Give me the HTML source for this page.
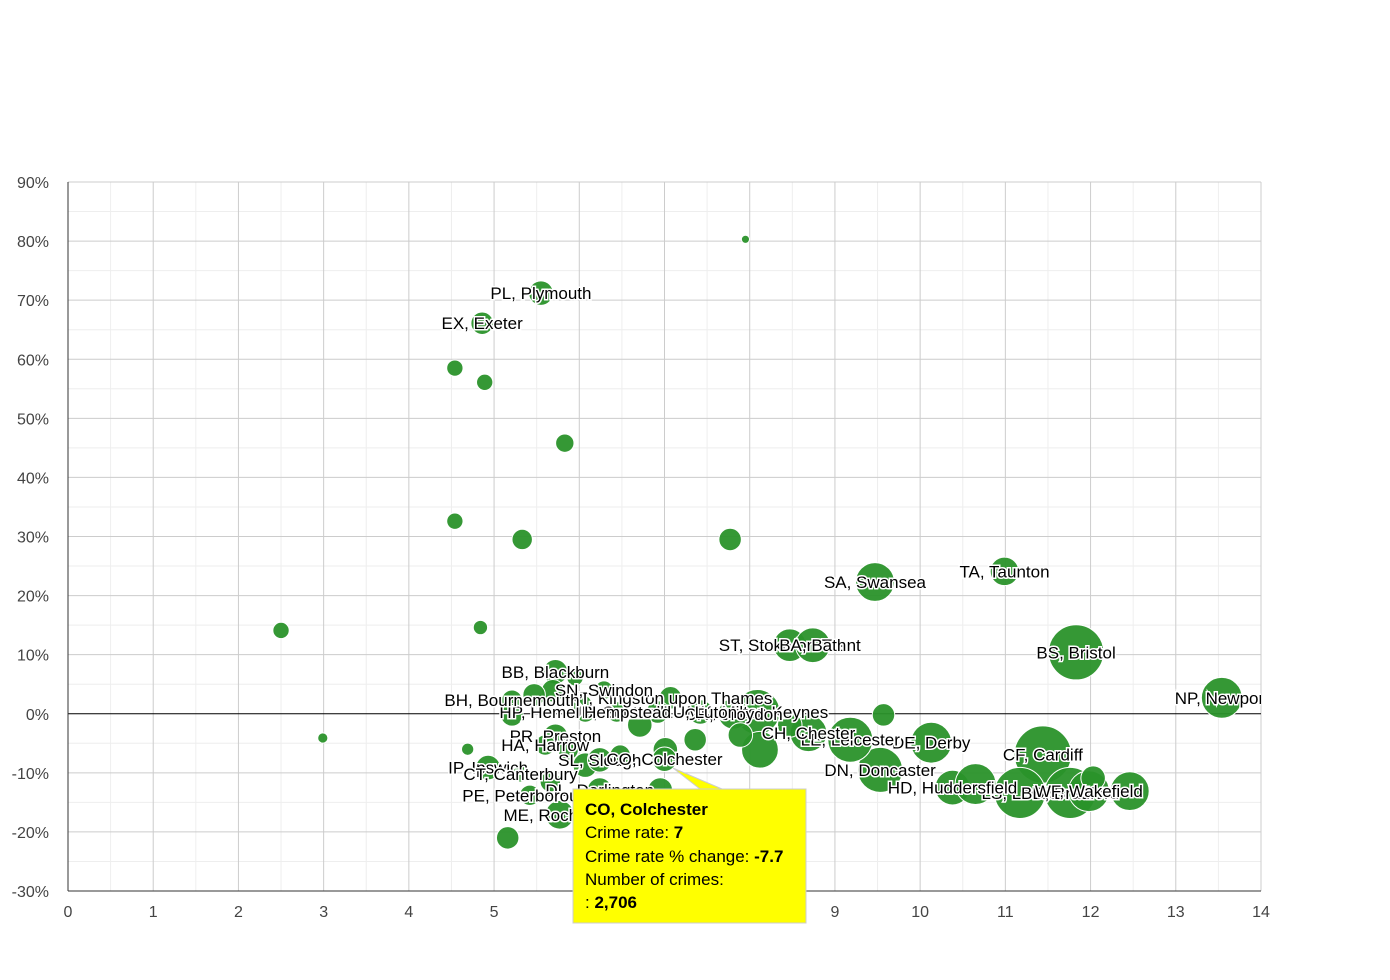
<!DOCTYPE html>
<html><head><meta charset="utf-8"><style>
body{margin:0;background:#fff;font-family:"Liberation Sans",Arial,sans-serif}
svg{display:block}
</style></head><body>
<svg id="chart" width="1390" height="980" font-family="Liberation Sans, Arial, sans-serif">
<g id="grid"></g>
<g id="axes"></g>
<g id="bubbles"></g>
<g id="labels"></g>
<g id="tooltip">
<path d="M673,768 L700,789 L722,789 Z" fill="#ff0" stroke="#ccc"/>
<rect x="573" y="789" width="233" height="134" fill="#ff0" stroke="#ccc"/>
<text x="585" y="815" font-size="17" font-weight="bold">CO, Colchester</text>
<text x="585" y="838" font-size="17">Crime rate: <tspan font-weight="bold">7</tspan></text>
<text x="585" y="862" font-size="17">Crime rate % change: <tspan font-weight="bold">-7.7</tspan></text>
<text x="585" y="885" font-size="17">Number of crimes:</text>
<text x="585" y="908" font-size="17">: <tspan font-weight="bold">2,706</tspan></text>
</g>
</svg>
<script>
const rates=[7.95,5.55,4.86,4.54,4.89,5.83,4.54,5.33,7.77,2.50,4.84,2.99,9.47,10.99,8.47,8.74,11.83,13.54,9.57,11.44,10.13,11.17,11.76,11.98,12.03,12.46,10.38,10.65,9.53,9.18,8.69,8.47,8.09,8.12,7.81,7.42,7.07,6.92,6.44,6.07,6.29,5.95,5.72,5.69,5.47,5.21,5.21,6.03,5.72,5.60,5.87,4.93,4.69,5.31,5.66,6.07,6.24,6.48,7.01,7.36,6.71,7.89,5.77,5.16,6.24,6.60,6.95,7.18,5.42,7.0];
const changes=[80.3,71.2,66.1,58.5,56.1,45.8,32.6,29.5,29.5,14.1,14.6,-4.1,22.3,24.1,11.6,11.6,10.4,2.7,-0.2,-6.9,-4.9,-13.4,-13.4,-13.1,-10.9,-13.1,-12.5,-11.9,-9.5,-4.4,-3.3,-1.9,0.3,-6.1,0.0,0.3,2.7,0.3,0.3,0.3,4.0,6.1,7.1,3.9,3.2,2.3,-0.2,1.5,-3.8,-5.3,-6.1,-9.1,-6.0,-10.2,-11.5,-8.7,-7.8,-7.0,-6.1,-4.4,-1.9,-3.6,-17.1,-21.0,-12.9,-14.6,-12.9,-14.6,-13.8,-7.7];
const crimes=[300,2720,2290,1210,1210,1530,1210,1890,2290,1210,930,470,6820,3700,4840,5460,13800,7560,2290,14800,7560,11800,11800,7560,2720,6820,5460,7560,9150,9150,6120,2720,9150,6120,4250,2720,2290,2290,1890,1890,1530,1210,2720,2290,2290,1890,2290,1890,2720,1890,1890,2720,680,1210,1890,2720,2720,1890,2720,2290,2720,2720,3700,2290,2720,2720,2720,1890,1890,2706];
const names=["","PL, Plymouth","EX, Exeter","","","","","","","","","","SA, Swansea","TA, Taunton","ST, Stoke-on-Trent","BA, Bath","BS, Bristol","NP, Newport","","CF, Cardiff","DE, Derby","LS, Leeds","BD, Bradford","WF, Wakefield","","","HD, Huddersfield","","DN, Doncaster","LE, Leicester","CH, Chester","","MK, Milton Keynes","","CR, Croydon","LU, Luton","KT, Kingston upon Thames","","UB, Southall","HP, Hemel Hempstead","SN, Swindon","","BB, Blackburn","","","BH, Bournemouth","","","PR, Preston","HA, Harrow","","IP, Ipswich","","CT, Canterbury","","","SL, Slough","","","","","","ME, Rochester","","DL, Darlington","","","","PE, Peterborough","CO, Colchester"];
const xTicks=[0,1,2,3,4,5,6,7,8,9,10,11,12,13,14];
const yTicks=[90,80,70,60,50,40,30,20,10,0,-10,-20,-30];
const L=68,R=1261,T=182,B=891;
const xs=v=>L+(v-0)/14*(R-L);
const ys=v=>T+(90-v)/120*(B-T);
const rs=c=>0.235*Math.sqrt(c);
const NS="http://www.w3.org/2000/svg";
function mk(tag,attrs,parent){const e=document.createElementNS(NS,tag);for(const k in attrs)e.setAttribute(k,attrs[k]);parent.appendChild(e);return e;}
const grid=document.getElementById('grid'),axes=document.getElementById('axes');
for(let v=0.5;v<14;v+=1){const l=mk('line',{x1:xs(v),x2:xs(v),y1:T,y2:B,stroke:'#eee'},grid);

}
for(let v=-25;v<90;v+=10){const l=mk('line',{x1:L,x2:R,y1:ys(v),y2:ys(v),stroke:'#eee'},grid);

}
xTicks.forEach(v=>{const l=mk('line',{x1:xs(v),x2:xs(v),y1:T,y2:B,stroke:'#ccc'},grid);


const t=mk('text',{x:xs(v),y:917,'text-anchor':'middle','font-size':16,fill:'#444'},axes);t.textContent=v;

});
yTicks.forEach(v=>{const l=mk('line',{x1:L,x2:R,y1:ys(v),y2:ys(v),stroke:v===0?'#000':'#ccc'},grid);


const t=mk('text',{x:49,y:ys(v)+6,'text-anchor':'end','font-size':16,fill:'#444'},axes);t.textContent=v+'%';

});
const ax=mk('line',{x1:L,x2:L,y1:T,y2:B,stroke:'#333'},axes);


const bx=mk('line',{x1:L,x2:R,y1:B,y2:B,stroke:'#333'},axes);


const bub=document.getElementById('bubbles'),lab=document.getElementById('labels');
const cp=mk('clipPath',{id:'plotclip'},document.getElementById('chart'));mk('rect',{x:L,y:T,width:R-L,height:B-T},cp);
lab.setAttribute('clip-path','url(#plotclip)');
rates.forEach((r,i)=>{const c=mk('circle',{cx:xs(r),cy:ys(changes[i]),r:rs(crimes[i]),fill:'#2a922a','fill-opacity':0.95,stroke:'#fff','stroke-width':1},bub);

});
rates.forEach((r,i)=>{if(!names[i])return;const t=mk('text',{x:xs(r),y:ys(changes[i])+6,'text-anchor':'middle','font-size':17,fill:'#000',stroke:'#fff','stroke-width':3,'paint-order':'stroke'},lab);t.textContent=names[i];

});
</script>
</body></html>
